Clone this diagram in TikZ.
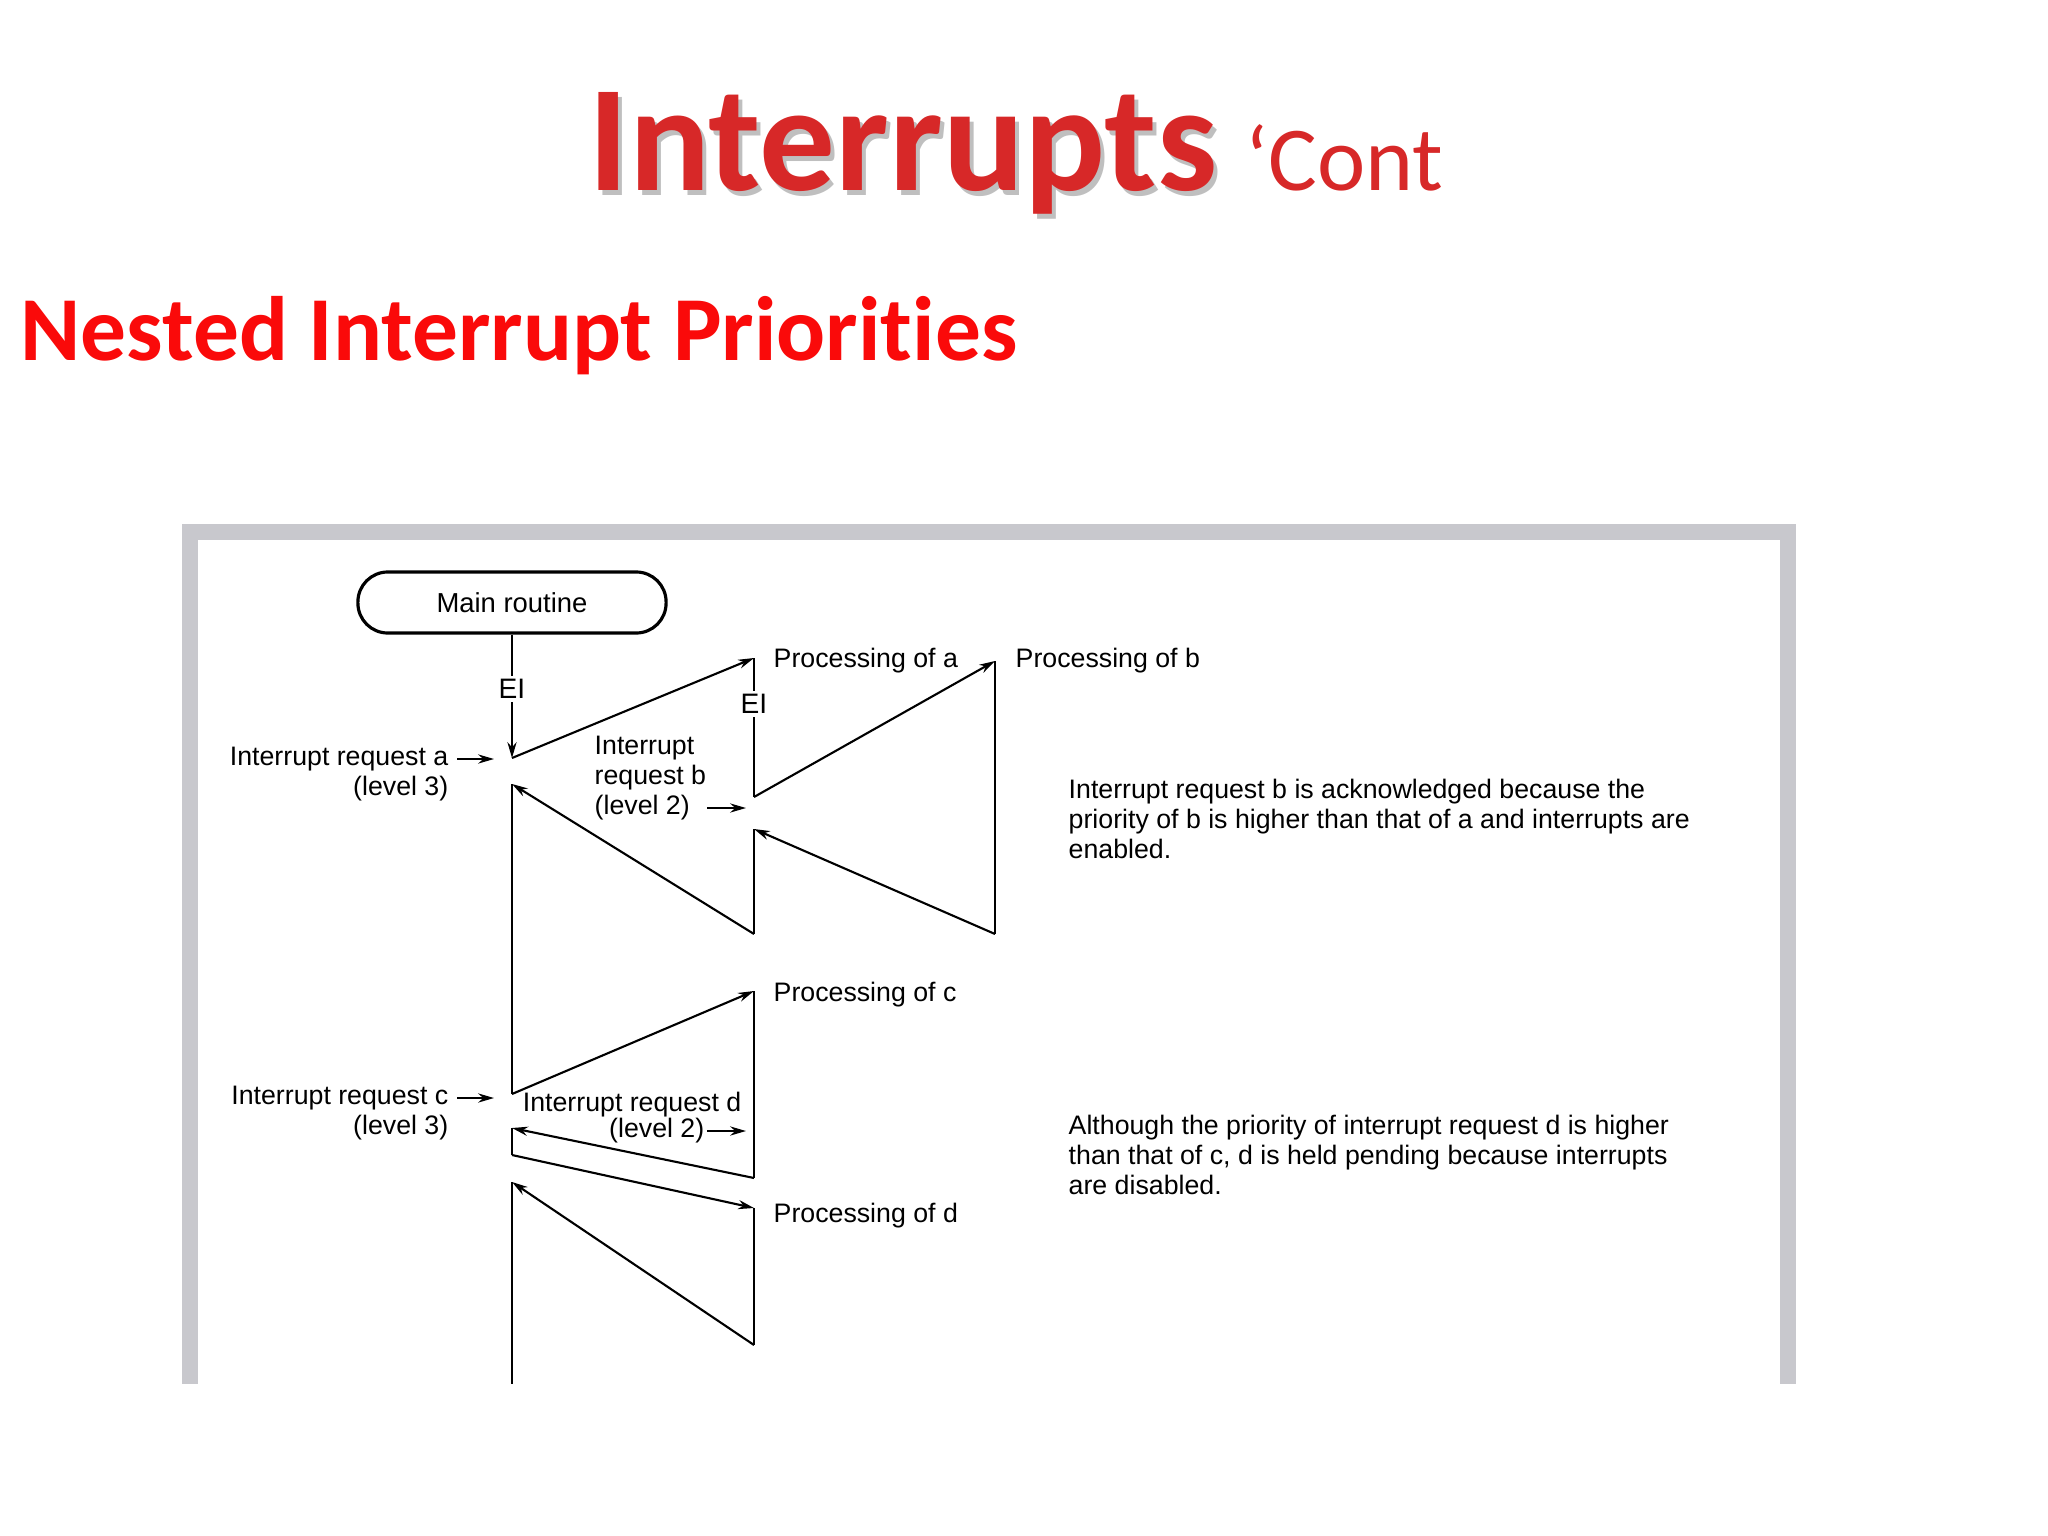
\documentclass[tikz,border=0pt]{standalone}
\usepackage{fontspec}
\setmainfont{Liberation Sans}
\newfontfamily\calfont[Ligatures=NoCommon]{Carlito}
\usetikzlibrary{arrows.meta}
\definecolor{framegray}{RGB}{200,200,205}
\definecolor{titlered}{RGB}{215,40,40}
\definecolor{headred}{RGB}{250,10,10}
\tikzset{
  lbl/.style={font=\fontsize{7.6}{8.6}\selectfont, inner sep=0pt},
  flow/.style={line width=0.6pt, -{Stealth[length=4.5pt,width=2.6pt]}},
  seg/.style={line width=0.6pt},
}
\begin{document}
\begin{tikzpicture}[x=0.01cm,y=-0.01cm]
\useasboundingbox (0,0) rectangle (2048,1536);
% title
\node[anchor=base west, inner sep=0pt, text=black!25, font=\calfont\bfseries\fontsize{43}{43}\selectfont] at (592,195) {Interrupts};
\node[anchor=base west, inner sep=0pt, text=titlered, font=\calfont\bfseries\fontsize{43}{43}\selectfont] (title) at (588,190) {Interrupts};
\node[anchor=base west, inner sep=0pt, text=titlered, font=\calfont\fontsize{26}{26}\selectfont] (cont) at (1245,190) {‘Cont};
\node[anchor=base west, inner sep=0pt, text=headred, font=\calfont\bfseries\fontsize{26}{26}\selectfont] (head) at (20,360) {Nested Interrupt Priorities};
% frame
\fill[framegray] (182,524) rectangle (1796,540);
\fill[framegray] (182,524) rectangle (198,1384);
\fill[framegray] (1780,524) rectangle (1796,1384);
% main routine
\node[draw, line width=0.9pt, rounded corners=8.5pt, minimum width=3.08cm, minimum height=0.61cm, inner sep=0pt, font=\fontsize{7.8}{9}\selectfont] (main) at (512,602.5) {Main routine};
% points
\coordinate (A) at (512,758);
\coordinate (Pa) at (754,658);
\coordinate (Qa) at (754,797);
\coordinate (Pb) at (995,661);
\coordinate (Qb) at (995,934);
\coordinate (Ra) at (754,829);
\coordinate (Sa) at (754,934);
\coordinate (R0) at (512,784);
\coordinate (C) at (512,1094);
\coordinate (Pc) at (754,991);
\coordinate (Qc) at (754,1178);
\coordinate (R1) at (512,1128);
\coordinate (D0) at (512,1155);
\coordinate (Pd) at (754,1208);
\coordinate (Qd) at (754,1345);
\coordinate (R2) at (512,1182);
\coordinate (E) at (512,1384);
% flow
\draw[flow] (main.south) -- node[fill=white, font=\fontsize{8}{9}\selectfont, inner sep=1pt, pos=0.44]{EI} (A);
\draw[flow] (A) -- (Pa);
\draw[seg] (Pa) -- node[fill=white, font=\fontsize{8}{9}\selectfont, inner sep=1pt, pos=0.33]{EI} (Qa);
\draw[flow] (Qa) -- (Pb);
\draw[seg] (Pb) -- (Qb);
\draw[flow] (Qb) -- (Ra);
\draw[seg] (Ra) -- (Sa);
\draw[flow] (Sa) -- (R0);
\draw[seg] (R0) -- (C);
\draw[flow] (C) -- (Pc);
\draw[seg] (Pc) -- (Qc);
\draw[flow] (Qc) -- (R1);
\draw[seg] (R1) -- (D0);
\draw[flow] (D0) -- (Pd);
\draw[seg] (Pd) -- (Qd);
\draw[flow] (Qd) -- (R2);
\draw[seg] (R2) -- (E);
% request labels
\node[lbl, anchor=east, align=right] (ra) at (449,774) {Interrupt request a\\(level 3)};
\coordinate (ra1) at (457,759); \coordinate (ra2) at (494,759);
\draw[flow] (ra1) -- (ra2);
\node[lbl, anchor=west, align=left] (rb) at (594,778) {Interrupt\\request b\\(level 2)};
\coordinate (rb1) at (707,808); \coordinate (rb2) at (746,808);
\draw[flow] (rb1) -- (rb2);
\node[lbl, anchor=east, align=right] (rc) at (449,1113) {Interrupt request c\\(level 3)};
\coordinate (rc1) at (457,1098); \coordinate (rc2) at (494,1098);
\draw[flow] (rc1) -- (rc2);
\node[lbl, anchor=east] (rd) at (742,1105) {Interrupt request d};
\node[lbl, anchor=east] (rd2) at (705,1131) {(level 2)};
\coordinate (rd1) at (707,1131); \coordinate (rd3) at (746,1131);
\draw[flow] (rd1) -- (rd3);
% processing labels
\node[lbl, anchor=west] (pa) at (773,661) {Processing of a};
\node[lbl, anchor=west] (pb) at (1015,661) {Processing of b};
\node[lbl, anchor=west] (pc) at (773,995) {Processing of c};
\node[lbl, anchor=west] (pd) at (773,1216) {Processing of d};
% notes
\node[lbl, anchor=west, align=left] (n1) at (1068,819) {Interrupt request b is acknowledged because the\\priority of b is higher than that of a and interrupts are\\enabled.};
\node[lbl, anchor=west, align=left] (n2) at (1068,1155) {Although the priority of interrupt request d is higher\\than that of c, d is held pending because interrupts\\are disabled.};
\end{tikzpicture}
\end{document}
